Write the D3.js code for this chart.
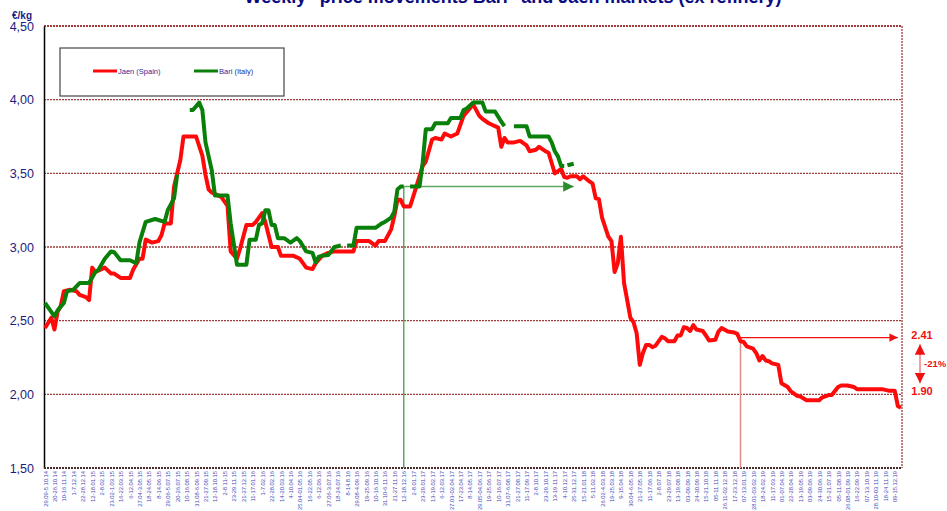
<!DOCTYPE html>
<html>
<head>
<meta charset="utf-8">
<script src="https://cdn.jsdelivr.net/npm/d3@7"></script>
<style>
  body { margin: 0; background: #fff; }
  svg { display: block; font-family: "Liberation Sans", Arial, sans-serif; }
</style>
</head>
<body>
<svg id="chart" width="947" height="511"></svg>
<script>
// tick labels, one every 3 weeks
const weekLabels = [
  "29.09-5.10.14", "20-26.10.14", "10-16.11.14", "1-7.12.14", "22-28.12.14", "12-18.01.15",
  "2-8.02.15", "23.02-1.03.15", "16-22.03.15", "6-12.04.15", "27.04-3.05.15", "18-24.05.15",
  "8-14.06.15", "29.06-5.07.15", "20-26.07.15", "10-16.08.15", "31.08-6.09.15", "21-27.09.15",
  "12-18.10.15", "2-8.11-15", "23-29.11.15", "21-27.12.15", "11-17.01.16", "1-7.02.16",
  "22-28.02.16", "14-20.03.16", "4-10.04.16", "25.04-01.05.16", "16-22.05.16", "6-12.06.16",
  "27.06-3.07.16", "18-24.07.16", "8-14.8.16", "29.08-4.09.16", "19-25.09.16", "10-16.10.16",
  "31.10-6.11.16", "21-27.11.16", "12-18.12.16", "2-8.01.17", "23-29.01.17", "13-19.02.17",
  "6-12.03.17", "27.03-02.04.17", "17-23.04.17", "8-14.05.17", "29.05-04.06.17", "19-25.06.17",
  "10-16.07.17", "31.07-6.08.17", "21-27.08.17", "11-17.09.17", "2-8.10.17", "23-29.10.17",
  "13-19.11.17", "4-10.12.17", "25-31.12.17", "15-21.01.18", "5-11.02.18", "26.02-4.03.18",
  "19-25.03.18", "9-15.04.18", "30.04-6.05.18", "21-27.05.18", "11-17.06.18", "2-8.07.18",
  "23-29.07.18", "13-19.08.18", "03-09.09.18", "24-30.09.18", "15-21.10.18", "05-11.11.18",
  "26.11-02.12.18", "17-23.12.18", "07-13.01.19", "28.01-03.02.19", "18-24.02.19", "11-17.03.19",
  "01-07.04.19", "22-28.04.19", "13-19.05.19", "03-09.06.19", "24-30.06.19", "15-21.07.19",
  "05-11.08.19", "26.08-01.09.19", "16-22.09.19", "07-13.10.19", "28.10-03.11.19", "18-24.11.19",
  "09-15.12.19"
];

// [week index, €/kg]
const jaen = [
  [0,2.45],[2,2.52],[3,2.44],[4,2.56],[5,2.60],[6,2.70],[8,2.71],[10,2.70],[11,2.675],[13,2.66],
  [14,2.64],[15,2.86],[16,2.83],[19,2.86],[21,2.82],[22,2.82],[24,2.79],[27,2.79],[28,2.845],[30,2.92],
  [31,2.92],[32,3.05],[34,3.03],[36,3.04],[37,3.08],[38,3.16],[40,3.16],[41,3.41],[43,3.59],[44,3.75],
  [48,3.75],[50,3.62],[51,3.49],[52,3.39],[53,3.37],[56,3.34],[58,3.28],[59,2.97],[61,2.92],[62,2.99],
  [64,3.15],[66,3.15],[67,3.17],[69,3.23],[70,3.17],[72,3.00],[74,3.00],[75,2.94],[79,2.94],[81,2.92],
  [83,2.86],[85,2.85],[86,2.89],[88,2.94],[90,2.96],[92,2.97],[98,2.97],[99,3.04],[103,3.04],[105,3.01],
  [106,3.04],[108,3.04],[110,3.12],[111,3.21],[112,3.32],[113,3.32],[114,3.275],[116,3.275],[118,3.41],[120,3.55],
  [121,3.58],[123,3.73],[124,3.74],[126,3.73],[127,3.77],[129,3.75],[131,3.77],[133,3.89],[135,3.94],[136,3.97],
  [138,3.89],[139,3.87],[141,3.84],[144,3.81],[145,3.68],[146,3.74],[147,3.71],[149,3.71],[151,3.72],[153,3.69],
  [154,3.65],[156,3.66],[157,3.68],[159,3.65],[160,3.64],[161,3.57],[162,3.50],[164,3.53],[165,3.475],[166,3.47],
  [167,3.48],[169,3.48],[170,3.46],[171,3.48],[173,3.445],[174,3.43],[175,3.33],[176,3.325],[177,3.20],[179,3.07],
  [180,3.04],[181,2.83],[182,2.89],[183,3.07],[184,2.755],[185,2.64],[186,2.52],[187,2.49],[188,2.415],[189,2.20],
  [190,2.28],[191,2.335],[192,2.335],[193,2.32],[194,2.33],[196,2.39],[197,2.38],[198,2.36],[200,2.36],[201,2.40],
  [202,2.40],[203,2.455],[204,2.45],[205,2.43],[206,2.47],[207,2.44],[209,2.43],[210,2.40],[211,2.365],[213,2.37],
  [214,2.426],[215,2.45],[217,2.426],[219,2.42],[220,2.41],[221,2.36],[222,2.355],[223,2.325],[225,2.31],[226,2.28],
  [227,2.23],[228,2.26],[229,2.23],[230,2.225],[231,2.21],[233,2.20],[234,2.075],[236,2.05],[237,2.02],[239,1.99],
  [240,1.985],[242,1.96],[246,1.96],[247,1.98],[249,1.995],[250,1.995],[252,2.05],[253,2.06],[255,2.06],[257,2.05],
  [258,2.035],[266,2.035],[268,2.025],[270,2.025],[271,1.92],[272,1.91]
];

// null = no quotation that week
const bari = [
  [0,2.62],[2,2.56],[3,2.53],[4,2.57],[6,2.62],[7,2.70],[9,2.71],[11,2.755],[14,2.755],[16,2.83],
  [17,2.845],[19,2.92],[21,2.97],[22,2.965],[24,2.91],[27,2.91],[29,2.89],[30,3.03],[32,3.17],[35,3.19],
  [38,3.17],[39,3.25],[41,3.33],[42,3.49],[44,null],[46,3.93],[47,3.93],[49,3.98],[50,3.93],[51,3.71],
  [53,3.52],[54,3.35],[58,3.35],[59,3.16],[61,2.88],[64,2.88],[65,3.05],[67,3.05],[68,3.15],[69,3.16],
  [70,3.25],[71,3.25],[72,3.15],[73,3.15],[74,3.06],[76,3.06],[78,3.03],[80,3.06],[81,3.04],[83,2.97],
  [85,2.96],[86,2.895],[87,2.935],[88,2.94],[90,2.945],[92,3.00],[94,3.01],[95,null],[96,3.01],[98,3.01],
  [99,3.13],[105,3.13],[107,3.16],[108,3.17],[110,3.20],[111,3.24],[112,3.39],[113,3.41],[114,3.41],[115,null],
  [116,3.41],[119,3.41],[120,3.57],[121,3.80],[123,3.80],[124,3.84],[128,3.84],[129,3.875],[132,3.875],[133,3.93],
  [134,3.94],[136,3.98],[139,3.98],[140,3.92],[143,3.92],[145,3.85],[146,3.82],[147,null],[149,3.82],[153,3.82],
  [154,3.75],[160,3.75],[161,3.71],[162,3.65],[163,3.615],[164,3.55],[165,3.55],[165.5,null],[166,3.555],[168,3.565]
];

const yTicks = [1.5, 2.0, 2.5, 3.0, 3.5, 4.0, 4.5];

// reference marks: [week, value, arrow end week]
const bariMark = [114, 3.41, 168];
const jaenMark = [221, 2.385, 271];

const svg = d3.select("#chart");
const plotLeft = 44, plotRight = 902, plotTop = 26, plotBottom = 468;

const x = d3.scaleLinear().domain([0, 272]).range([45, 901]);
const y = d3.scaleLinear().domain([1.5, 4.5]).range([plotBottom, plotTop]);

const navy = "#1c1c7e";

// title (cut at the top edge)
svg.append("text")
  .attr("x", 513).attr("y", 3)
  .attr("text-anchor", "middle")
  .attr("font-size", 18).attr("font-weight", "bold")
  .attr("fill", "#0a0a80")
  .text("Weekly \"price movements Bari\" and Jaen markets (ex refinery)");

// grid
svg.append("g").selectAll("line")
  .data(yTicks.filter(d => d > 1.5))
  .enter().append("line")
  .attr("x1", plotLeft).attr("x2", plotRight)
  .attr("y1", d => y(d)).attr("y2", d => y(d))
  .attr("stroke", "#a03c3c").attr("stroke-width", d => d === 4.5 ? 1.8 : 1.3)
  .attr("stroke-dasharray", "2,1");

svg.append("line")
  .attr("x1", plotRight).attr("x2", plotRight).attr("y1", plotTop).attr("y2", plotBottom)
  .attr("stroke", "#a03c3c").attr("stroke-width", 1.3).attr("stroke-dasharray", "2,1");

// y axis
const yAxis = svg.append("g")
  .attr("transform", `translate(${plotLeft},0)`)
  .call(d3.axisLeft(y).tickValues(yTicks).tickSize(0).tickPadding(10)
    .tickFormat(d => d3.format(".2f")(d).replace(".", ",")));
yAxis.select(".domain").attr("stroke", "#000").attr("stroke-width", 1.5);
yAxis.selectAll("text")
  .attr("font-size", 12.5).attr("fill", navy)
  .attr("font-family", "Liberation Sans, Arial, sans-serif");

svg.append("text")
  .attr("x", 12).attr("y", 19)
  .attr("font-size", 10).attr("font-weight", "bold").attr("fill", navy)
  .text("€/kg");

// x axis
const xAxis = svg.append("g")
  .attr("transform", `translate(0,${plotBottom})`)
  .call(d3.axisBottom(x).tickValues(weekLabels.map((d, i) => i * 3)).tickSize(0)
    .tickFormat(w => weekLabels[w / 3]));
xAxis.select(".domain").remove();
xAxis.selectAll("text")
  .attr("transform", "rotate(-90)")
  .attr("text-anchor", "end")
  .attr("x", -3).attr("y", 0).attr("dy", "0.35em")
  .attr("font-size", 5.8)
  .attr("font-family", "Liberation Sans, Arial, sans-serif")
  .attr("fill", "#4646b4");

svg.append("line")
  .attr("x1", plotLeft).attr("x2", plotRight).attr("y1", plotBottom).attr("y2", plotBottom)
  .attr("stroke", "#4a2a2a").attr("stroke-width", 2).attr("stroke-dasharray", "2,1");

// markers
const defs = svg.append("defs");
[["headGreen", "#2e8b2e"], ["headRed", "#ee1111"]].forEach(([id, c]) => {
  defs.append("marker")
    .attr("id", id).attr("viewBox", "0 0 10 10")
    .attr("refX", 10).attr("refY", 5)
    .attr("markerWidth", 7).attr("markerHeight", 7)
    .attr("orient", "auto-start-reverse")
    .append("path").attr("d", "M0,0L10,5L0,10z").attr("fill", c);
});

// reference lines under the series
svg.append("line")
  .attr("x1", x(bariMark[0])).attr("x2", x(bariMark[0]))
  .attr("y1", y(bariMark[1])).attr("y2", plotBottom)
  .attr("stroke", "#5fa85f").attr("stroke-width", 1.5);
svg.append("line")
  .attr("x1", x(bariMark[0])).attr("x2", x(bariMark[2]))
  .attr("y1", y(bariMark[1])).attr("y2", y(bariMark[1]))
  .attr("stroke", "#5fa85f").attr("stroke-width", 1.5)
  .attr("marker-end", "url(#headGreen)");

svg.append("line")
  .attr("x1", x(jaenMark[0])).attr("x2", x(jaenMark[0]))
  .attr("y1", y(jaenMark[1])).attr("y2", plotBottom)
  .attr("stroke", "#e08a8a").attr("stroke-width", 1.5);
svg.append("line")
  .attr("x1", x(jaenMark[0])).attr("x2", x(jaenMark[2]))
  .attr("y1", y(jaenMark[1])).attr("y2", y(jaenMark[1]))
  .attr("stroke", "#ee1111").attr("stroke-width", 1.2)
  .attr("marker-end", "url(#headRed)");

// series
const line = d3.line()
  .defined(d => d[1] != null)
  .x(d => x(d[0])).y(d => y(d[1]));

svg.append("path").datum(jaen)
  .attr("d", line).attr("fill", "none")
  .attr("stroke", "#ff0a0a").attr("stroke-width", 4)
  .attr("stroke-linejoin", "round");

svg.append("path").datum(bari)
  .attr("d", line).attr("fill", "none")
  .attr("stroke", "#0a800a").attr("stroke-width", 4)
  .attr("stroke-linejoin", "round");

// change annotation
svg.append("text").attr("x", 922).attr("y", y(2.40)).attr("dy", "0.35em")
  .attr("text-anchor", "middle").attr("font-size", 11).attr("font-weight", "bold")
  .attr("fill", "#ee1111").text("2.41");
svg.append("text").attr("x", 922).attr("y", y(2.02)).attr("dy", "0.35em")
  .attr("text-anchor", "middle").attr("font-size", 11).attr("font-weight", "bold")
  .attr("fill", "#ee1111").text("1.90");
svg.append("text").attr("x", 924).attr("y", y(2.21)).attr("dy", "0.35em")
  .attr("font-size", 9.5).attr("font-weight", "bold")
  .attr("fill", "#ee1111").text("-21%");
svg.append("line")
  .attr("x1", 920).attr("x2", 920).attr("y1", y(2.34)).attr("y2", y(2.075))
  .attr("stroke", "#f08080").attr("stroke-width", 1.5)
  .attr("marker-start", "url(#headRed)").attr("marker-end", "url(#headRed)");

// legend
const legend = svg.append("g");
legend.append("rect")
  .attr("x", 60).attr("y", 48).attr("width", 224).attr("height", 48)
  .attr("fill", "#fff").attr("stroke", "#444").attr("stroke-width", 1.2);
[["Jaen (Spain)", "#ff0a0a", 93], ["Bari (Italy)", "#0a800a", 194]].forEach(([name, c, lx]) => {
  legend.append("line")
    .attr("x1", lx).attr("x2", lx + 24).attr("y1", 71).attr("y2", 71)
    .attr("stroke", c).attr("stroke-width", 3);
  legend.append("text")
    .attr("x", lx + 25).attr("y", 74)
    .attr("font-size", 7.5).attr("fill", "#2a2a9a")
    .text(name);
});
</script>
</body>
</html>
